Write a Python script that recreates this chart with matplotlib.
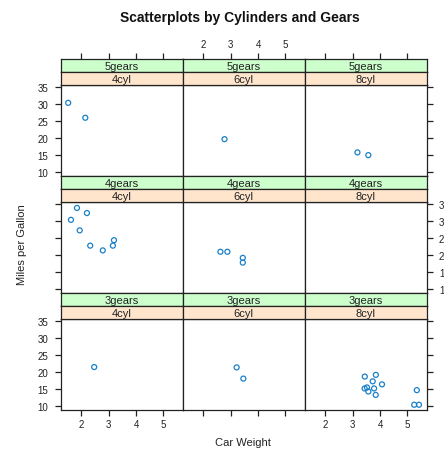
import matplotlib
matplotlib.use('Agg')
import matplotlib.pyplot as plt

plt.rcParams['font.family'] = ['Liberation Sans', 'DejaVu Sans']

# mtcars: weight (1000 lbs), mpg, cylinders, gears
wt = [2.620, 2.875, 2.320, 3.215, 3.440, 3.460, 3.570, 3.190, 3.150, 3.440, 3.440,
      4.070, 3.730, 3.780, 5.250, 5.424, 5.345, 2.200, 1.615, 1.835, 2.465, 3.520,
      3.435, 3.840, 3.845, 1.935, 2.140, 1.513, 3.170, 2.770, 3.570, 2.780]
mpg = [21.0, 21.0, 22.8, 21.4, 18.7, 18.1, 14.3, 24.4, 22.8, 19.2, 17.8,
       16.4, 17.3, 15.2, 10.4, 10.4, 14.7, 32.4, 30.4, 33.9, 21.5, 15.5,
       15.2, 13.3, 19.2, 27.3, 26.0, 30.4, 15.8, 19.7, 15.0, 21.4]
cyl = [6, 6, 4, 6, 8, 6, 8, 4, 4, 6, 6, 8, 8, 8, 8, 8, 8, 4, 4, 4, 4, 8,
       8, 8, 8, 4, 4, 4, 8, 6, 8, 4]
gear = [4, 4, 4, 3, 3, 3, 3, 4, 4, 4, 4, 3, 3, 3, 3, 3, 3, 4, 4, 4, 3, 3,
        3, 3, 3, 4, 5, 5, 5, 5, 5, 4]

cyl_levels = [4, 6, 8]
gear_levels = [5, 4, 3]   # top row to bottom row
x_ticks = [2, 3, 4, 5]
y_ticks = [10, 15, 20, 25, 30, 35]

W, H = 444, 452
fig = plt.figure(figsize=(W / 100, H / 100), dpi=100)

pt_col = '#1a80c8'
green = '#ccffcc'
orange = '#ffe5cc'
line_col = '#222222'

col_x = [61, 183, 305]
col_w = 121.5
top0 = 59.5
strip_h = 13
panel_h = 91
row_h = 2 * strip_h + panel_h
xlim = (1.25, 5.70)
ylim = (9.0, 35.8)


def fx(px):
    return px / W


def fy(py):
    return 1 - py / H


def strip(x, ytop, label, color):
    sa = fig.add_axes([fx(x), fy(ytop + strip_h), fx(col_w), strip_h / H])
    sa.set_facecolor(color)
    sa.set_xticks([])
    sa.set_yticks([])
    for s in sa.spines.values():
        s.set_linewidth(0.9)
        s.set_color(line_col)
    sa.text(0.5, 0.45, label, ha='center', va='center', fontsize=8,
            color=line_col, transform=sa.transAxes)
    return sa


for r, g in enumerate(gear_levels):
    row_top = top0 + r * row_h
    p_top = row_top + 2 * strip_h
    top_row = r == 0
    bot_row = r == len(gear_levels) - 1
    for c, cy in enumerate(cyl_levels):
        x0 = col_x[c]
        ax = fig.add_axes([fx(x0), fy(p_top + panel_h), fx(col_w), panel_h / H])
        xs = [w for w, cc, gg in zip(wt, cyl, gear) if cc == cy and gg == g]
        ys = [m for m, cc, gg in zip(mpg, cyl, gear) if cc == cy and gg == g]
        ax.scatter(xs, ys, s=13, facecolors='none', edgecolors=pt_col, linewidths=0.9)
        ax.set_xlim(*xlim)
        ax.set_ylim(*ylim)
        for s in ax.spines.values():
            s.set_linewidth(0.9)
            s.set_color(line_col)
        ax.tick_params(direction='out', length=4, width=0.9, color=line_col,
                       labelsize=7, labelcolor=line_col, pad=3)

        # x ticks on the bottom row only (top ticks sit above the strips)
        ax.set_xticks(x_ticks)
        ax.tick_params(axis='x', top=False, bottom=bot_row,
                       labeltop=False, labelbottom=bot_row and c != 1)

        # y ticks only on outer columns, labels alternate between rows
        ax.set_yticks(y_ticks)
        left_col = c == 0
        right_col = c == len(cyl_levels) - 1
        ax.tick_params(axis='y', left=left_col, right=right_col,
                       labelleft=left_col and r != 1,
                       labelright=right_col and r == 1, pad=5)

        sg = strip(x0, row_top, f'{g}gears', green)
        strip(x0, row_top + strip_h, f'{cy}cyl', orange)
        if top_row:
            sg.set_xlim(*xlim)
            sg.set_xticks(x_ticks)
            sg.tick_params(axis='x', direction='out', length=4, width=0.9,
                           color=line_col, labelsize=7, labelcolor=line_col,
                           pad=3, top=True, bottom=False,
                           labeltop=c == 1, labelbottom=False)

fig.text(fx(240), fy(18), 'Scatterplots by Cylinders and Gears', ha='center',
         va='center', fontsize=10, fontweight='bold', color='#111111')
fig.text(fx(243), fy(443), 'Car Weight', ha='center', va='center', fontsize=8,
         color=line_col)
fig.text(fx(22), fy(245), 'Miles per Gallon', ha='center', va='center', fontsize=8,
         rotation=90, color=line_col)

fig.savefig('out.png', dpi=100)
